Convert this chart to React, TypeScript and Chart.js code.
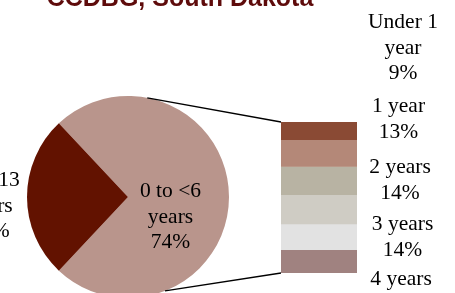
import React, { useEffect, useRef } from "react";
import { Chart, registerables } from "chart.js";
Chart.register(...registerables);

const chartTitle = "CCDBG, South Dakota";
const pieLabels = ["0 to <6 years", "6 to 13 years"];
const pieValues = [74, 26];
const pieColors = ["#B9958C", "#621200"];
const pieLabelLines = [["0 to <6", "years"], ["6 to 13", "years"]];

const barLabels = ["Under 1 year", "1 year", "2 years", "3 years", "4 years", "5 years"];
const barValues = [8.6, 13.2, 13.8, 14.4, 12.6, 11.4];
const barColors = ["#8A4A34", "#B48878", "#B8B3A3", "#CFCCC4", "#E2E2E2", "#A08280"];
const barLabelLines = [["Under 1", "year"], ["1 year"], ["2 years"], ["3 years"], ["4 years"], ["5 years"]];

const W = 455;
const H = 293;
const SERIF = "21.5px 'Liberation Serif', 'Times New Roman', serif";
const LINE = 25.5;

export default function App() {
  const pieRef = useRef<HTMLCanvasElement>(null);
  const barRef = useRef<HTMLCanvasElement>(null);

  useEffect(() => {
    const pieTotal = pieValues.reduce((a, b) => a + b, 0);
    const rotation = -90 + ((pieValues[1] / pieTotal) * 360) / 2 - 180 + 90 + 90 - 90;
    // light slice starts at 180deg + half of dark slice (canvas angles)

    const pieLabelPlugin = {
      id: "pieLabels",
      afterDraw(chart: any) {
        const arc = chart.getDatasetMeta(0).data[0];
        const cx = arc.x;
        const cy = arc.y;
        const ctx = chart.ctx;
        ctx.save();
        ctx.font = SERIF;
        ctx.fillStyle = "#000";
        ctx.textAlign = "center";
        ctx.textBaseline = "alphabetic";
        const offs = [
          { dx: 42.5, dy: 0 },
          { dx: -138, dy: -11 },
        ];
        pieLabelLines.forEach((lines, i) => {
          const all = [...lines, Math.round((pieValues[i] / pieTotal) * 100) + "%"];
          all.forEach((t, j) => {
            ctx.fillText(t, cx + offs[i].dx, cy + offs[i].dy + j * LINE);
          });
        });
        ctx.restore();
      },
    };

    const pie = new Chart(pieRef.current!, {
      type: "pie",
      data: {
        labels: pieLabels,
        datasets: [
          {
            data: pieValues,
            backgroundColor: pieColors,
            borderWidth: 0,
            hoverOffset: 0,
          },
        ],
      },
      options: {
        responsive: false,
        animation: false,
        rotation: -43.2,
        layout: { padding: { left: 27, right: 226, top: 96, bottom: 102 } },
        plugins: {
          legend: { display: false },
          tooltip: { enabled: false },
          title: { display: false },
        },
        events: [],
      },
      plugins: [pieLabelPlugin],
    });

    const barTotal = barValues.reduce((a, b) => a + b, 0);

    const overlayPlugin = {
      id: "overlay",
      afterDraw(chart: any) {
        const ctx = chart.ctx;
        ctx.save();
        // title
        ctx.font = "bold 25px 'Liberation Sans', Arial, sans-serif";
        ctx.fillStyle = "#5E0B0B";
        ctx.textAlign = "center";
        ctx.textBaseline = "alphabetic";
        ctx.fillText(chartTitle, 180, 6);

        // connector lines
        const arc = pie.getDatasetMeta(0).data[0] as any;
        const r = arc.outerRadius;
        const topMeta = chart.getDatasetMeta(0).data[0] as any;
        const botMeta = chart.getDatasetMeta(barValues.length - 1).data[0] as any;
        const barLeft = topMeta.x - topMeta.width / 2;
        const topY = Math.min(topMeta.y, topMeta.base);
        const botY = Math.max(botMeta.y, botMeta.base);
        const a1 = (-79 * Math.PI) / 180;
        const a2 = (68.5 * Math.PI) / 180;
        ctx.strokeStyle = "#000";
        ctx.lineWidth = 1.3;
        ctx.beginPath();
        ctx.moveTo(arc.x + r * Math.cos(a1), arc.y + r * Math.sin(a1));
        ctx.lineTo(barLeft, topY);
        ctx.moveTo(arc.x + r * Math.cos(a2), arc.y + r * Math.sin(a2));
        ctx.lineTo(barLeft, botY);
        ctx.stroke();

        // right labels
        ctx.font = SERIF;
        ctx.fillStyle = "#000";
        const firstBase = [28, 112, 173, 230, 285, 340];
        const xs = [403, 398.5, 400, 402.5, 401, 401];
        barLabelLines.forEach((lines, i) => {
          const all = [...lines, Math.round(barValues[i]) + "%"];
          all.forEach((t, j) => {
            ctx.fillText(t, xs[i], firstBase[i] + j * LINE);
          });
        });
        ctx.restore();
      },
    };

    const bar = new Chart(barRef.current!, {
      type: "bar",
      data: {
        labels: [""],
        datasets: barValues.map((v, i) => ({
          label: barLabels[i],
          data: [v],
          backgroundColor: barColors[i],
          borderWidth: 0,
          barPercentage: 1,
          categoryPercentage: 1,
        })),
      },
      options: {
        responsive: false,
        animation: false,
        layout: { padding: { left: 281, right: 98, top: 122, bottom: 20 } },
        scales: {
          x: { display: false, stacked: true },
          y: { display: false, stacked: true, reverse: true, min: 0, max: barTotal },
        },
        plugins: {
          legend: { display: false },
          tooltip: { enabled: false },
          title: { display: false },
        },
        events: [],
      },
      plugins: [overlayPlugin],
    });

    return () => {
      bar.destroy();
      pie.destroy();
    };
  }, []);

  return (
    <div
      style={{
        position: "fixed",
        left: 0,
        top: 0,
        width: W,
        height: H,
        overflow: "hidden",
        background: "#fff",
      }}
    >
      <canvas
        ref={pieRef}
        width={W}
        height={400}
        style={{ position: "absolute", left: 0, top: 0, width: W, height: 400 }}
      />
      <canvas
        ref={barRef}
        width={W}
        height={H}
        style={{ position: "absolute", left: 0, top: 0, width: W, height: H }}
      />
    </div>
  );
}
